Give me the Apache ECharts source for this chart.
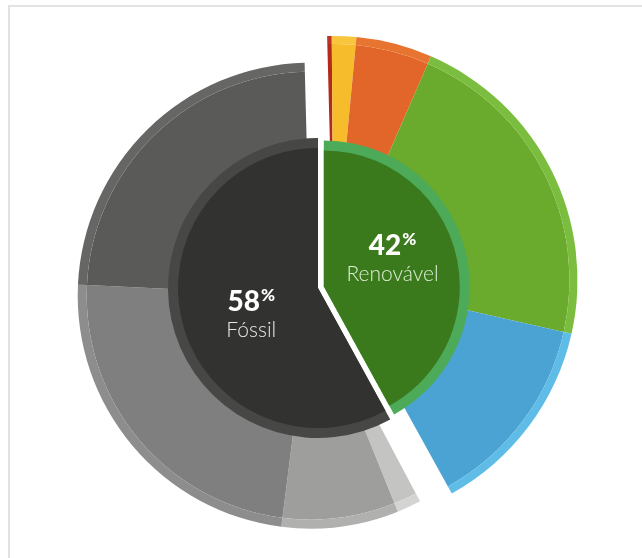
<!DOCTYPE html>
<html>
<head>
<meta charset="utf-8">
<script src="https://cdn.jsdelivr.net/npm/echarts@6/dist/echarts.min.js"></script>
<style>
  html, body { margin: 0; padding: 0; background: #ffffff; }
  #frame {
    position: absolute; left: 8px; top: 5px; right: 0; bottom: 0;
    border-top: 2px solid #e2e2e2; border-left: 2px solid #e2e2e2;
  }
  #chart { position: absolute; left: 0; top: 0; width: 642px; height: 558px; }
</style>
</head>
<body>
<div id="frame"></div>
<div id="chart"></div>
<script>
// Main split of the energy mix (percent)
const mainNames = ['Fóssil', 'Renovável'];
const mainValues = [58, 42];

// Renewable breakdown, clockwise from 12 o'clock
const renewableNames = ['Renovável 1', 'Renovável 2', 'Renovável 3', 'Renovável 4', 'Renovável 5'];
const renewableValues = [0.3, 1.6, 5.0, 21.8, 13.3];

// Fossil breakdown, clockwise from the lower split
const fossilNames = ['Fóssil 1', 'Fóssil 2', 'Fóssil 3', 'Fóssil 4'];
const fossilValues = [1.7, 8.2, 24.0, 24.1];

// Colours (body, outer rim)
const renewableColors = ['#b2291d', '#f7bc2b', '#e2662a', '#6aaa2c', '#4aa3d3'];
const renewableRim    = ['#bb3324', '#f9c53d', '#e8752f', '#7bbd3e', '#5ebce6'];
const fossilColors    = ['#c4c5c3', '#9e9f9d', '#7f7f7f', '#5a5b59'];
const fossilRim       = ['#d4d4d3', '#b0b0af', '#8d8d8d', '#666765'];

const total = mainValues[0] + mainValues[1];
const splitDeg = mainValues[1] / total * 360;   // clockwise from 12 o'clock
const toEc = d => 90 - d;                        // clockwise-from-top -> echarts angle

const chart = echarts.init(document.getElementById('chart'), null, { renderer: 'canvas' });

function ring(center, radius, start, end, names, values, colors, z) {
  return {
    type: 'pie', center, radius, z,
    startAngle: toEc(start), endAngle: toEc(end), clockwise: true,
    silent: true, animation: false, label: { show: false }, labelLine: { show: false },
    emphasis: { disabled: true },
    itemStyle: { borderWidth: 0 },
    data: values.map((v, i) => ({ name: names[i], value: v, itemStyle: { color: colors[i] } }))
  };
}

const fossilOuterC = [310.7, 295.6];
const renewOuterC = [333.5, 280];
const fossilInnerC = [318, 288];
const renewInnerC = [323.8, 286.5];

const fossilLabel = {
  show: true, position: 'inside', padding: [18, 0, 0, 8],
  formatter: '{a|' + mainValues[0] + '}{p|%}\n{n|' + mainNames[0] + '}',
  rich: {
    a: { fontFamily: 'Lato', fontWeight: 900, fontSize: 28, color: '#ffffff', lineHeight: 30 },
    p: { fontFamily: 'Lato', fontWeight: 900, fontSize: 17, color: '#ffffff', verticalAlign: 'top', lineHeight: 30, padding: [0, 0, 6, 1] },
    n: { fontFamily: 'Lato', fontWeight: 300, fontSize: 21, color: '#e6e6e6', lineHeight: 26 }
  }
};
const renewLabel = {
  show: true, position: 'inside', padding: [0, 0, 20, 0],
  formatter: '{a|' + mainValues[1] + '}{p|%}\n{n|' + mainNames[1] + '}',
  rich: {
    a: { fontFamily: 'Lato', fontWeight: 900, fontSize: 28, color: '#ffffff', lineHeight: 30 },
    p: { fontFamily: 'Lato', fontWeight: 900, fontSize: 17, color: '#ffffff', verticalAlign: 'top', lineHeight: 30, padding: [0, 0, 6, 1] },
    n: { fontFamily: 'Lato', fontWeight: 300, fontSize: 21, color: '#dcefd2', lineHeight: 26 }
  }
};

const series = [
  // outer fossil ring + rim
  ring(fossilOuterC, [125, 224], splitDeg + 0.8, 358.5, fossilNames, fossilValues, fossilColors, 1),
  ring(fossilOuterC, [224, 233], splitDeg + 0.8, 358.5, fossilNames, fossilValues, fossilRim, 1),
  // outer renewable ring + rim
  ring(renewOuterC, [125, 236], -1.5, splitDeg - 0.2, renewableNames, renewableValues, renewableColors, 1),
  ring(renewOuterC, [236, 244], -1.5, splitDeg - 0.2, renewableNames, renewableValues, renewableRim, 1),
  // inner fossil sector: band then core
  ring(fossilInnerC, [0, 150], splitDeg, 360, [mainNames[0]], [mainValues[0]], ['#474745'], 2),
  Object.assign(ring(fossilInnerC, [0, 140], splitDeg, 360, [mainNames[0]], [mainValues[0]], ['#323230'], 3), { label: fossilLabel }),
  // inner renewable sector: band then core
  ring(renewInnerC, [0, 146], 0, splitDeg, [mainNames[1]], [mainValues[1]], ['#4caa58'], 2),
  Object.assign(ring(renewInnerC, [0, 136], 0, splitDeg, [mainNames[1]], [mainValues[1]], ['#3a7a1c'], 3), { label: renewLabel })
];

chart.setOption({ backgroundColor: 'transparent', animation: false, series });
</script>
</body>
</html>
